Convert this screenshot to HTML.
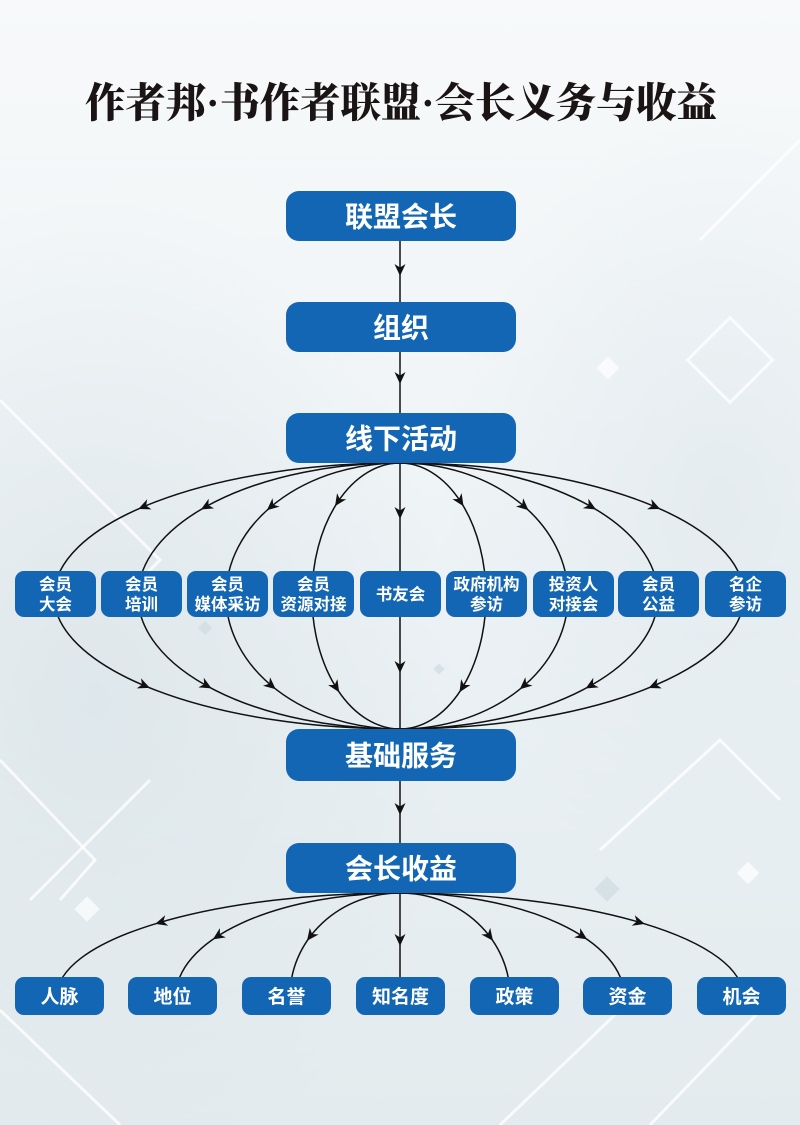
<!DOCTYPE html>
<html><head><meta charset="utf-8">
<style>
html,body{margin:0;padding:0;}
body{width:800px;height:1125px;overflow:hidden;}
svg{display:block;}
.bx{fill:#1366b3;}
.t{fill:#fff;font-family:"Liberation Sans","Noto Sans CJK SC",sans-serif;font-weight:700;text-anchor:middle;}
</style></head>
<body>
<svg width="800" height="1125" viewBox="0 0 800 1125" xmlns="http://www.w3.org/2000/svg">
<defs>
<linearGradient id="bg" x1="0" y1="0" x2="0" y2="1">
<stop offset="0" stop-color="#f7f9fa"/>
<stop offset="0.35" stop-color="#f1f5f7"/>
<stop offset="0.7" stop-color="#e8eff2"/>
<stop offset="1" stop-color="#e3ebee"/>
</linearGradient>
<radialGradient id="rg1" cx="0.12" cy="0.62" r="0.45">
<stop offset="0" stop-color="#dde6ea" stop-opacity="0.9"/>
<stop offset="1" stop-color="#dde6ea" stop-opacity="0"/>
</radialGradient>
<radialGradient id="rg2" cx="0.9" cy="0.45" r="0.35">
<stop offset="0" stop-color="#e2eaee" stop-opacity="0.8"/>
<stop offset="1" stop-color="#e2eaee" stop-opacity="0"/>
</radialGradient>
<path id="ah" d="M5,0 L-7,-5.5 L-3.5,0 L-7,5.5 Z" fill="#111"/>
</defs>
<rect width="800" height="1125" fill="url(#bg)"/>
<rect width="800" height="1125" fill="url(#rg1)"/>
<rect width="800" height="1125" fill="url(#rg2)"/>
<!-- faint tech pattern -->
<g stroke="#ffffff" stroke-opacity="0.75" fill="none" stroke-width="3">
<path d="M0,400 L160,560 L120,600"/>
<path d="M0,760 L95,860 L60,900"/>
<path d="M150,780 L30,900"/>
<path d="M600,850 L720,740 L780,800"/>
<path d="M650,1125 L780,990"/>
<path d="M0,1010 L120,1125"/>
<path d="M700,240 L800,140"/>
<path d="M500,1125 L620,1010"/>
<rect x="700" y="330" width="60" height="60" transform="rotate(45 730 360)"/>
</g>
<g fill="#ffffff" fill-opacity="0.7">
<rect x="78" y="900" width="18" height="18" transform="rotate(45 87 909)"/>
<rect x="600" y="360" width="16" height="16" transform="rotate(45 608 368)"/>
<rect x="740" y="865" width="16" height="16" transform="rotate(45 748 873)"/>
</g>
<g fill="#c9d9dd" fill-opacity="0.6">
<rect x="598" y="880" width="18" height="18" transform="rotate(45 607 889)"/>
<rect x="200" y="623" width="10" height="10" transform="rotate(45 205 628)"/>
<rect x="435" y="665" width="8" height="8" transform="rotate(45 439 669)"/>
</g>

<!-- Title -->
<text x="401" y="117" font-family="'Liberation Serif','Noto Serif CJK SC',serif" font-weight="900" font-size="41" fill="#1a1514" text-anchor="middle" textLength="632" lengthAdjust="spacingAndGlyphs">作者邦·书作者联盟·会长义务与收益</text>

<!-- connectors -->
<g stroke="#111" stroke-width="1.5" fill="none">
<line x1="400" y1="241" x2="400" y2="302"/>
<line x1="400" y1="352" x2="400" y2="413"/>
<line x1="400" y1="463" x2="400" y2="729"/>
<line x1="400" y1="781" x2="400" y2="843"/>
<line x1="400" y1="893" x2="400" y2="977"/>
<!-- upper ellipses -->
<path d="M400,463 A346,133 0 0 0 54,596 A346,133 0 0 0 400,729"/>
<path d="M400,463 A262,133 0 0 0 138,596 A262,133 0 0 0 400,729"/>
<path d="M400,463 A174,133 0 0 0 226,596 A174,133 0 0 0 400,729"/>
<path d="M400,463 A88,133 0 0 0 312,596 A88,133 0 0 0 400,729"/>
<path d="M400,463 A86,133 0 0 1 486,596 A86,133 0 0 1 400,729"/>
<path d="M400,463 A168,133 0 0 1 568,596 A168,133 0 0 1 400,729"/>
<path d="M400,463 A258,133 0 0 1 658,596 A258,133 0 0 1 400,729"/>
<path d="M400,463 A344,133 0 0 1 744,596 A344,133 0 0 1 400,729"/>
<!-- lower ellipses -->
<path d="M400,893 A343,103 0 0 0 57,996"/>
<path d="M400,893 A224,103 0 0 0 176,996"/>
<path d="M400,893 A110,103 0 0 0 290,996"/>
<path d="M400,893 A110,103 0 0 1 510,996"/>
<path d="M400,893 A224,103 0 0 1 624,996"/>
<path d="M400,893 A343,103 0 0 1 743,996"/>
</g>

<!-- arrowheads -->
<use href="#ah" transform="translate(400,271) rotate(90)"/>
<use href="#ah" transform="translate(400,379) rotate(90)"/>
<use href="#ah" transform="translate(400,514) rotate(90)"/>
<use href="#ah" transform="translate(400,668) rotate(90)"/>
<use href="#ah" transform="translate(400,810) rotate(90)"/>
<use href="#ah" transform="translate(400,941) rotate(90)"/>

<use href="#ah" transform="translate(142.9,507) rotate(156.9)"/>
<use href="#ah" transform="translate(205.3,507) rotate(150.6)"/>
<use href="#ah" transform="translate(270.7,507) rotate(139.7)"/>
<use href="#ah" transform="translate(337.8,502) rotate(123.5)"/>
<use href="#ah" transform="translate(460.8,502) rotate(57.1)"/>
<use href="#ah" transform="translate(524.8,507) rotate(41.3)"/>
<use href="#ah" transform="translate(591.7,507) rotate(29.8)"/>
<use href="#ah" transform="translate(655.6,507) rotate(23.2)"/>

<use href="#ah" transform="translate(145.3,686) rotate(22.7)"/>
<use href="#ah" transform="translate(207.2,686) rotate(28.9)"/>
<use href="#ah" transform="translate(271.9,686) rotate(39.7)"/>
<use href="#ah" transform="translate(336.5,688) rotate(57.6)"/>
<use href="#ah" transform="translate(462.1,688) rotate(121.8)"/>
<use href="#ah" transform="translate(523.6,686) rotate(139.3)"/>
<use href="#ah" transform="translate(589.9,686) rotate(150.7)"/>
<use href="#ah" transform="translate(653.2,686) rotate(157.2)"/>

<use href="#ah" transform="translate(160,922.5) rotate(163.6)"/>
<use href="#ah" transform="translate(217,936.6) rotate(146.9)"/>
<use href="#ah" transform="translate(310,936.8) rotate(126.9)"/>
<use href="#ah" transform="translate(490,936.8) rotate(53.1)"/>
<use href="#ah" transform="translate(583,936.6) rotate(33.1)"/>
<use href="#ah" transform="translate(640,922.5) rotate(16.4)"/>

<!-- main boxes -->
<rect class="bx" x="286" y="191" width="230" height="50" rx="13"/>
<rect class="bx" x="286" y="302" width="230" height="50" rx="13"/>
<rect class="bx" x="286" y="413" width="230" height="50" rx="13"/>
<rect class="bx" x="286" y="729" width="230" height="52" rx="13"/>
<rect class="bx" x="286" y="843" width="230" height="50" rx="13"/>
<g class="t" font-size="28">
<text x="401" y="226.6">联盟会长</text>
<text x="401" y="337.6">组织</text>
<text x="401" y="448.6">线下活动</text>
<text x="401" y="765.6">基础服务</text>
<text x="401" y="878.6">会长收益</text>
</g>

<!-- activity boxes -->
<g>
<rect class="bx" x="15" y="571" width="81" height="46" rx="9"/>
<rect class="bx" x="101" y="571" width="81" height="46" rx="9"/>
<rect class="bx" x="187" y="571" width="81" height="46" rx="9"/>
<rect class="bx" x="273" y="571" width="81" height="46" rx="9"/>
<rect class="bx" x="360" y="571" width="81" height="46" rx="9"/>
<rect class="bx" x="446" y="571" width="81" height="46" rx="9"/>
<rect class="bx" x="533" y="571" width="81" height="46" rx="9"/>
<rect class="bx" x="618" y="571" width="81" height="46" rx="9"/>
<rect class="bx" x="705" y="571" width="81" height="46" rx="9"/>
</g>
<g class="t" font-size="16.5">
<text x="55.5" y="590">会员</text><text x="55.5" y="610">大会</text>
<text x="141.5" y="590">会员</text><text x="141.5" y="610">培训</text>
<text x="227.5" y="590">会员</text><text x="227.5" y="610">媒体采访</text>
<text x="313.5" y="590">会员</text><text x="313.5" y="610">资源对接</text>
<text x="400.5" y="600">书友会</text>
<text x="486.5" y="590">政府机构</text><text x="486.5" y="610">参访</text>
<text x="573.5" y="590">投资人</text><text x="573.5" y="610">对接会</text>
<text x="658.5" y="590">会员</text><text x="658.5" y="610">公益</text>
<text x="745.5" y="590">名企</text><text x="745.5" y="610">参访</text>
</g>

<!-- benefit boxes -->
<g>
<rect class="bx" x="15" y="977" width="89" height="38" rx="9"/>
<rect class="bx" x="128" y="977" width="89" height="38" rx="9"/>
<rect class="bx" x="242" y="977" width="89" height="38" rx="9"/>
<rect class="bx" x="356" y="977" width="89" height="38" rx="9"/>
<rect class="bx" x="470" y="977" width="89" height="38" rx="9"/>
<rect class="bx" x="583" y="977" width="89" height="38" rx="9"/>
<rect class="bx" x="697" y="977" width="89" height="38" rx="9"/>
</g>
<g class="t" font-size="19">
<text x="59.5" y="1003">人脉</text>
<text x="172.5" y="1003">地位</text>
<text x="286.5" y="1003">名誉</text>
<text x="400.5" y="1003">知名度</text>
<text x="514.5" y="1003">政策</text>
<text x="627.5" y="1003">资金</text>
<text x="741.5" y="1003">机会</text>
</g>
</svg>
</body></html>
